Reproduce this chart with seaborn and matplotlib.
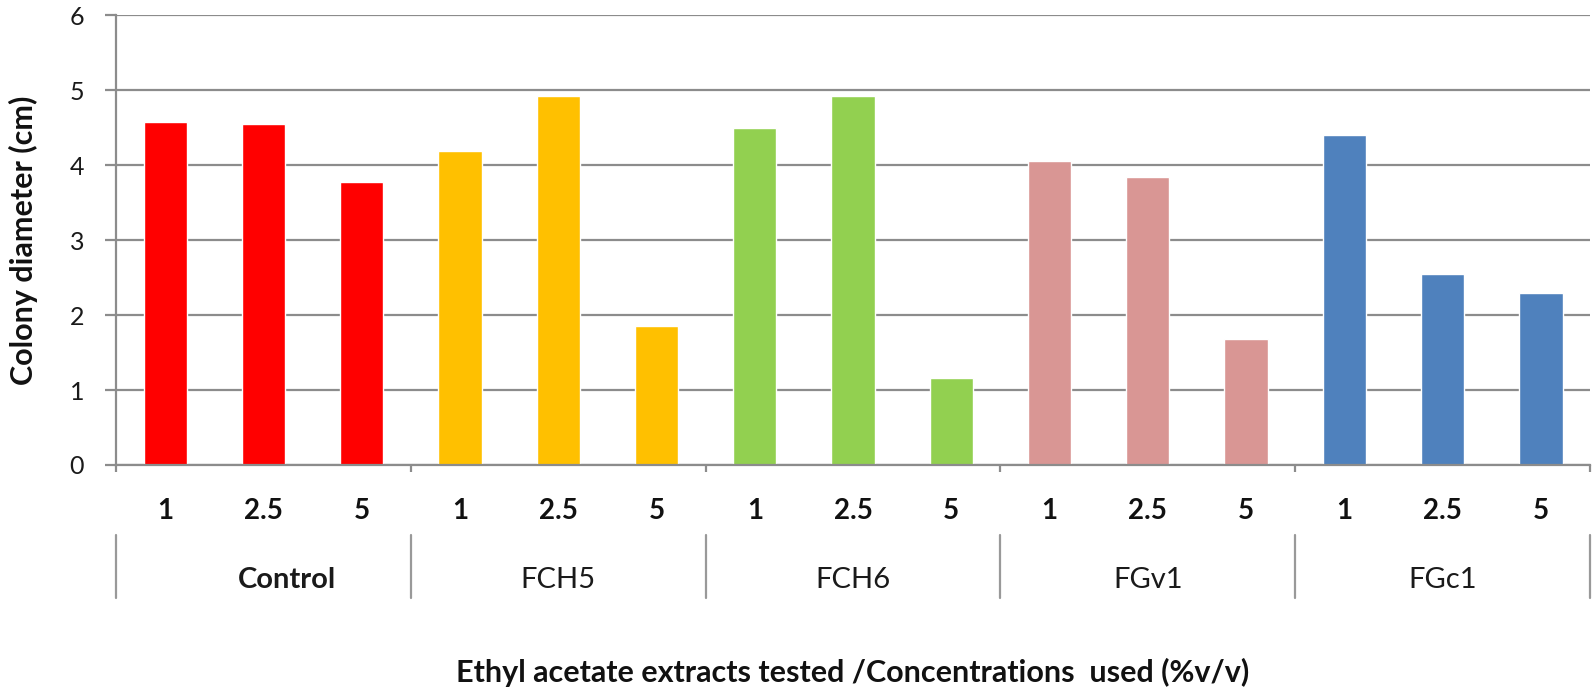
import pandas as pd
import seaborn as sns
import matplotlib.pyplot as plt
from matplotlib.transforms import blended_transform_factory

# data
extracts = ["Control", "FCH5", "FCH6", "FGv1", "FGc1"]
concentrations = ["1", "2.5", "5"]
control = [4.58, 4.55, 3.78]
fch5 = [4.19, 4.92, 1.85]
fch6 = [4.50, 4.92, 1.16]
fgv1 = [4.05, 3.84, 1.68]
fgc1 = [4.40, 2.55, 2.30]
colors = ["#FF0000", "#FFC000", "#92D050", "#D99694", "#4F81BD"]

rows = []
for name, vals in zip(extracts, [control, fch5, fch6, fgv1, fgc1]):
    for conc, v in zip(concentrations, vals):
        rows.append({"slot": name + " " + conc, "extract": name, "conc": conc, "diameter": v})
df = pd.DataFrame(rows)

sns.set_style("white")
plt.rcParams["font.family"] = ["Lato", "DejaVu Sans"]

fig = plt.figure(figsize=(15.94, 6.95), dpi=100)
ax = fig.add_axes([0.0728, 0.331, 0.9247, 0.647])

sns.barplot(data=df, x="slot", y="diameter", hue="extract", palette=colors,
            dodge=False, width=0.44, legend=False, ax=ax, saturation=1)

grid_c = "#8C8C8C"
ax.set_ylim(0, 6)
ax.set_xlim(-0.5, len(df) - 0.5)
ax.set_yticks(range(0, 7))
ax.yaxis.grid(True, color=grid_c, linewidth=1.6)
ax.set_axisbelow(True)
for s in ["top", "right"]:
    ax.spines[s].set_visible(False)
for s in ["left", "bottom"]:
    ax.spines[s].set_color(grid_c)
    ax.spines[s].set_linewidth(1.6)

ax.tick_params(axis="y", left=True, length=8, width=1.6, color=grid_c,
               labelsize=18, labelcolor="#1a1a1a", pad=15)
ax.set_xticks(range(len(df)))
ax.set_xticklabels(df["conc"], fontsize=20, fontweight="bold", color="#111111")
ax.tick_params(axis="x", bottom=False, pad=20)
# small ticks at the group boundaries
ax.set_xticks([i * 3 - 0.5 for i in range(len(extracts) + 1)], minor=True)
ax.tick_params(axis="x", which="minor", bottom=True, length=5, width=1.6, color=grid_c)

ax.set_ylabel("Colony diameter (cm)", fontsize=22, fontweight="bold", color="#111111")
ax.yaxis.set_label_coords(-0.053, 0.5)
ax.set_xlabel("Ethyl acetate extracts tested /Concentrations  used (%v/v)",
              fontsize=22, fontweight="bold", color="#111111")
ax.xaxis.set_label_coords(0.5, -0.43)

# group labels and separators under the concentration labels
trans = blended_transform_factory(ax.transData, ax.transAxes)
for i in range(len(extracts) + 1):
    ax.plot([i * 3 - 0.5, i * 3 - 0.5], [-0.156, -0.296], color="#999999",
            linewidth=1.6, transform=trans, clip_on=False)
for i, name in enumerate(extracts):
    xpos = i * 3 + 1 + (0.235 if name == "Control" else 0)
    ax.text(xpos, -0.256, name, transform=trans, ha="center", va="center",
            fontsize=21, fontweight="bold" if name == "Control" else "normal",
            color="#1a1a1a")

fig.savefig("out.png", dpi=100)
